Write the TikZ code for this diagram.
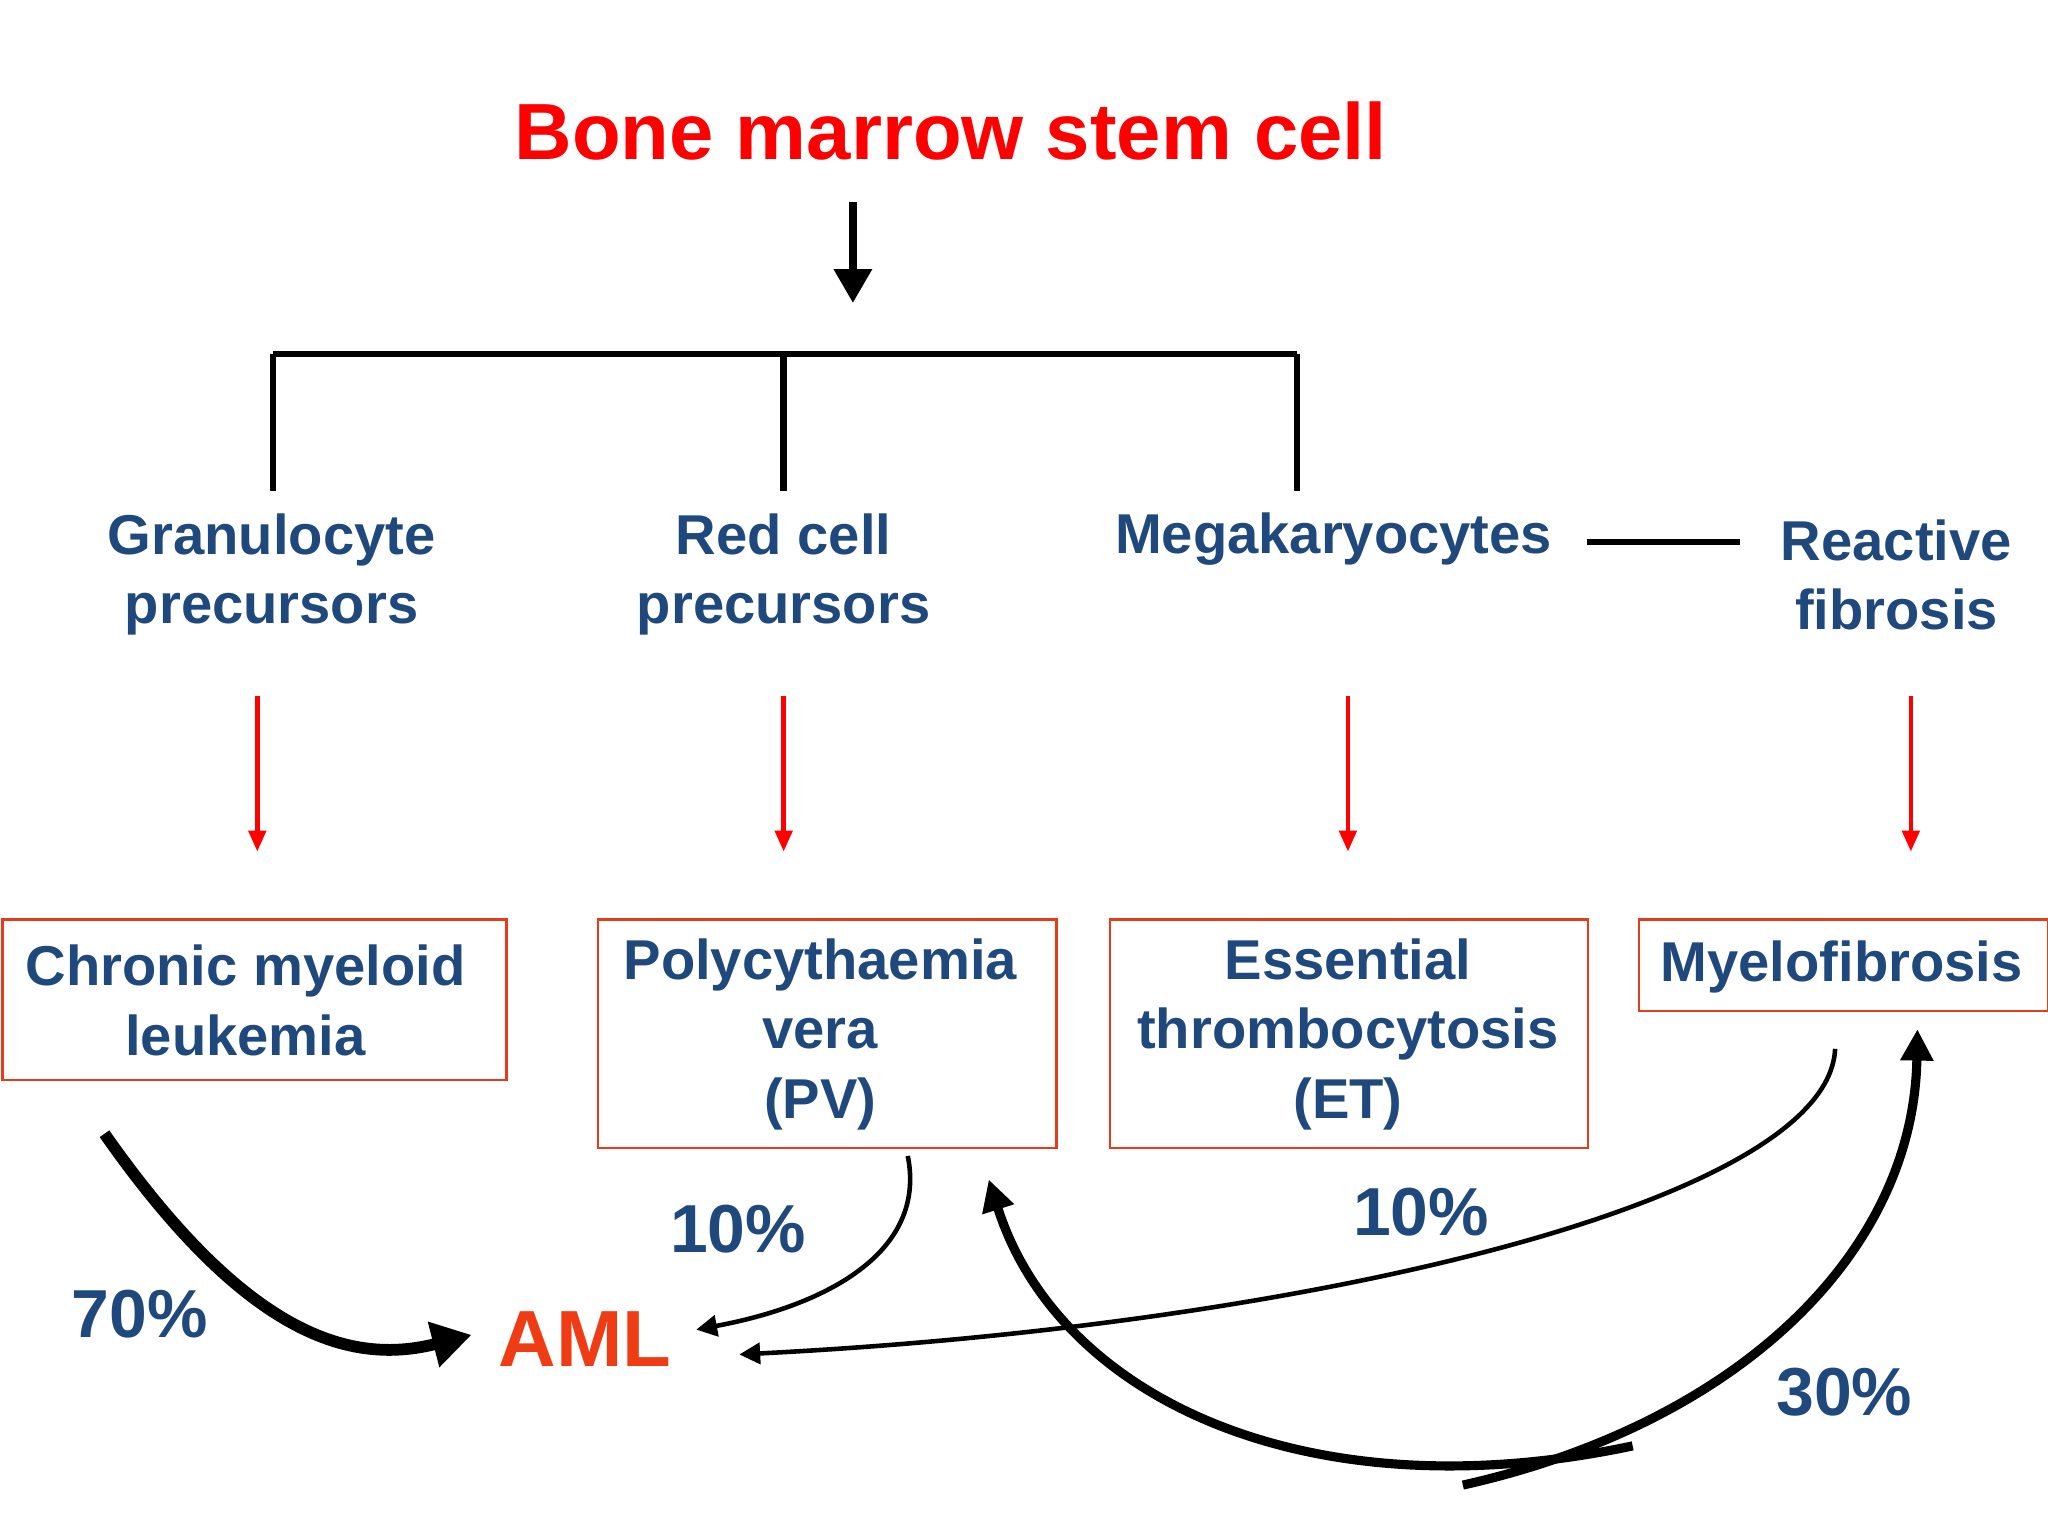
\documentclass[tikz,border=0pt]{standalone}
\usepackage{fontspec}
\setmainfont{Liberation Sans}
\usetikzlibrary{arrows.meta}
\definecolor{tblue}{RGB}{31,73,125}
\definecolor{boxred}{RGB}{230,60,30}
\definecolor{amlred}{RGB}{240,60,20}
\begin{document}
\begin{tikzpicture}[x=1pt,y=-1pt,
  lbl/.style={text=tblue,font=\bfseries\fontsize{43}{53}\selectfont,align=center,inner sep=0},
  box/.style={draw=boxred,line width=1.8pt,inner sep=0,anchor=north west},
  pct/.style={text=tblue,font=\bfseries\fontsize{52}{53}\selectfont,inner sep=0},
  redarr/.style={red,line width=3.5pt,-{Triangle[length=16pt,width=13pt]}},
  blk/.style={line width=5pt}]
\useasboundingbox (0,0) rectangle (1568,1176);
\node[text=red,font=\bfseries\fontsize{61}{70}\selectfont,inner sep=0] (title) at (728,100) {Bone marrow stem cell};
\coordinate (a1) at (653,155); \coordinate (a2) at (653,232);
\draw[line width=6pt,-{Triangle[length=26pt,width=28pt]}] (a1) -- (a2);
\coordinate (bl) at (209,271); \coordinate (bm) at (600,271); \coordinate (br) at (993,271);
\coordinate (bl2) at (209,376); \coordinate (bm2) at (600,376); \coordinate (br2) at (993,376);
\draw[blk] (bl) -- (br); \draw[blk] (bl) -- (bl2); \draw[blk] (bm) -- (bm2); \draw[blk] (br) -- (br2);
\node[lbl] (gran) at (208,440) {Granulocyte\\precursors};
\node[lbl] (redc) at (600,440) {Red cell\\precursors};
\node[lbl] (mega) at (1021,413) {Megakaryocytes};
\node[lbl] (reac) at (1452,440) {Reactive\\fibrosis};
\coordinate (m1) at (1215,415); \coordinate (m2) at (1332,415);
\draw[line width=4pt] (m1) -- (m2);
\foreach \x/\n in {197/r1,600/r2,1032/r3,1463/r4}{
  \coordinate (\n a) at (\x,533); \coordinate (\n b) at (\x,652);
  \draw[redarr] (\n a) -- (\n b);}
\node[box,minimum width=386pt,minimum height=123pt] (cml) at (1,703) {};
\node[lbl] at (188,766) {Chronic myeloid\\leukemia};
\node[box,minimum width=351pt,minimum height=175pt] (pv) at (457,703) {};
\node[lbl] at (628,792) {Polycythaemia\\vera\\(PV)};
\node[box,minimum width=366pt,minimum height=175pt] (et) at (849,703) {};
\node[lbl] at (1032,792) {Essential\\thrombocytosis\\(ET)};
\node[box,minimum width=313pt,minimum height=70pt] (mf) at (1254,703) {};
\node[lbl] at (1410,740) {Myelofibrosis};
\node[text=amlred,font=\bfseries\fontsize{61}{62}\selectfont,inner sep=0] (aml) at (448,1025) {AML};
\node[pct] (p70) at (107,1006) {70\%};
\node[pct] (p10a) at (565,941) {10\%};
\node[pct] (p10b) at (1088,928) {10\%};
\node[pct] (p30) at (1412,1066) {30\%};
\coordinate (c1) at (80,868); \coordinate (c2) at (361,1022);
\draw[line width=9pt,-{Triangle[length=30pt,width=34pt]}] (c1) .. controls (190,1025) and (270,1045) .. (c2);
\coordinate (d1) at (695,885); \coordinate (d2) at (533,1018);
\draw[line width=3.5pt,-{Triangle[length=16pt,width=16pt]}] (d1) .. controls (710,960) and (630,1000) .. (d2);
\coordinate (e1) at (1405,803); \coordinate (e2) at (566,1037);
\draw[line width=3.5pt,-{Triangle[length=16pt,width=16pt]}] (e1) .. controls (1400,920) and (1000,1015) .. (e2);
\coordinate (f1) at (1250,1107); \coordinate (f2) at (757,903);
\draw[line width=7pt,-{Triangle[length=24pt,width=24pt]}] (f1) .. controls (1000,1160) and (810,1070) .. (f2);
\coordinate (g1) at (1120,1137); \coordinate (g2) at (1468,788);
\draw[line width=7pt,-{Triangle[length=24pt,width=24pt]}] (g1) .. controls (1330,1090) and (1465,960) .. (g2);
\end{tikzpicture}
\end{document}
